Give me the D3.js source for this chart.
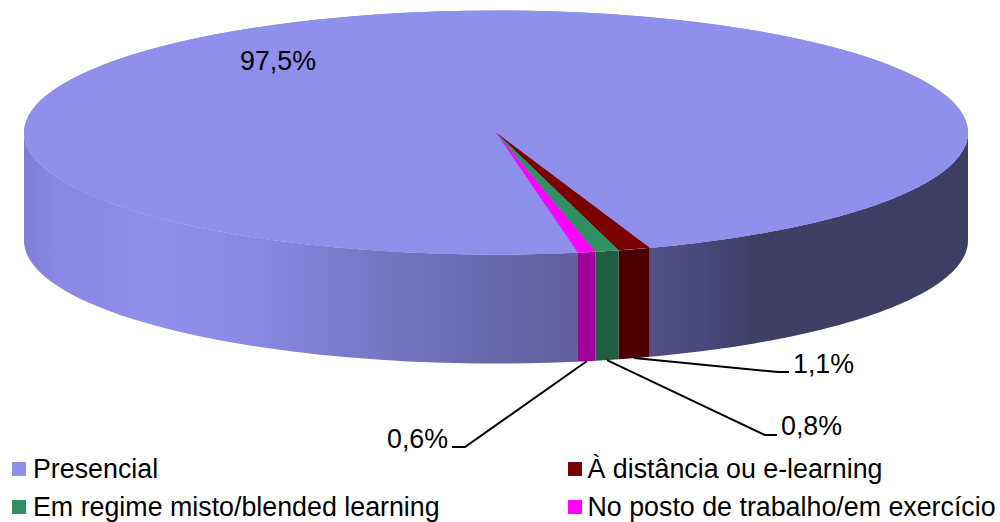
<!DOCTYPE html>
<html><head><meta charset="utf-8">
<style>html,body{margin:0;padding:0;background:#fff}svg{display:block}text{font-family:"Liberation Sans",Arial,sans-serif;font-size:26.8px;fill:#000}</style>
<script src="https://cdn.jsdelivr.net/npm/d3@7"></script></head><body>
<svg id="c" width="1000" height="522"></svg>
<script>
const categories = ["Presencial","À distância ou e-learning","Em regime misto/blended learning","No posto de trabalho/em exercício"];
const values = [97.5,1.1,0.8,0.6];
const valueLabels = ["97,5%","1,1%","0,8%","0,6%"];
const topColors = ["#8f8fec","#7b0000","#2f9160","#ff00ff"];
const sideColors = [null,"#4c0000","#1f5e3f","#a0009a"];

const W = {cx:496,cy:132.5,rx:472,ry:122,depth:108,ryBottom:123};
const startDeg = 170;
const svg = d3.select("#c");
const defs = svg.append("defs");
const shade = [[24,"#7f7ed6"],[60,"#8988e4"],[150,"#8f8fec"],[230,"#8c8ce8"],[300,"#8382da"],[400,"#7373c0"],[500,"#6767aa"],[575,"#5f5f9c"],[650,"#515185"],[700,"#48487a"],[750,"#3f3f66"],[968,"#3e3e64"]];
const xPct = d3.scaleLinear().domain([24,968]).range([0,100]);
const grad = defs.append("linearGradient").attr("id","wall")
  .attr("gradientUnits","userSpaceOnUse").attr("x1",24).attr("x2",968).attr("y1",0).attr("y2",0);
grad.selectAll("stop").data(shade).join("stop")
  .attr("offset",d=>xPct(d[0])+"%").attr("stop-color",d=>d[1]);

const rad = Math.PI/180;
const pie = d3.pie().sort(null).startAngle(startDeg*rad).endAngle((startDeg+360)*rad);
const arcs = pie(values);
const px = a=>W.cx+W.rx*Math.sin(a), py = a=>W.cy-W.ry*Math.cos(a);
const pyB = a=>W.cy+W.depth-W.ryBottom*Math.cos(a);

// side walls: visible only on the front half of the ellipse
const front = (a0,a1)=>{
  const out=[];
  for(const k of [0,1]){
    const lo=Math.max(a0,(90+360*k)*rad), hi=Math.min(a1,(270+360*k)*rad);
    if(hi>lo) out.push([lo,hi]);
  }
  return out;
};
const wallPath = ([lo,hi])=>{
  const ts=d3.range(0,1.0001,1/80).map(t=>lo+(hi-lo)*t);
  const upper=ts.map(a=>[px(a),py(a)]);
  const lower=ts.slice().reverse().map(a=>[px(a),pyB(a)]);
  return d3.line()(upper.concat(lower))+"Z";
};
arcs.forEach((d,i)=>{
  front(d.startAngle,d.endAngle).forEach(seg=>{
    svg.append("path").attr("d",wallPath(seg))
      .attr("fill",i===0?"url(#wall)":sideColors[i]);
  });
});

// top face: a base ellipse avoids light seams along the wedge edges
const topFace = svg.append("g").attr("transform",`translate(${W.cx},${W.cy}) scale(1,${W.ry/W.rx})`);
const arc = d3.arc().innerRadius(0).outerRadius(W.rx);
topFace.append("circle").attr("r",W.rx).attr("fill",topColors[0]);
topFace.selectAll("path").data(arcs).join("path").attr("d",arc).attr("fill",(d,i)=>topColors[i]);

// labels
const labelLayout = [
  {x:240,y:70},
  {x:793,y:373,ex:778,ey:372,ox:789},
  {x:781,y:435,ex:765,ey:435,ox:777},
  {x:387,y:448,ex:465,ey:447,ox:452}
];
arcs.forEach((d,i)=>{
  const L=labelLayout[i];
  if(L.ex!==undefined){
    const m=(d.startAngle+d.endAngle)/2;
    svg.append("path").attr("fill","none").attr("stroke","#000").attr("stroke-width",2)
      .attr("d",d3.line()([[px(m),pyB(m)],[L.ex,L.ey],[L.ox,L.ey]]));
  }
  svg.append("text").attr("x",L.x).attr("y",L.y).text(valueLabels[i]);
});

// legend
const legendLayout=[{x:12,y:462},{x:568,y:462},{x:12,y:500},{x:568,y:500}];
const leg=svg.append("g").selectAll("g").data(categories).join("g")
  .attr("transform",(d,i)=>`translate(${legendLayout[i].x},${legendLayout[i].y})`);
leg.append("rect").attr("width",14).attr("height",14).attr("fill",(d,i)=>topColors[i]);
leg.append("text").attr("x",(d,i)=>i%2?19.5:21).attr("y",16).text(d=>d);
</script></body></html>
